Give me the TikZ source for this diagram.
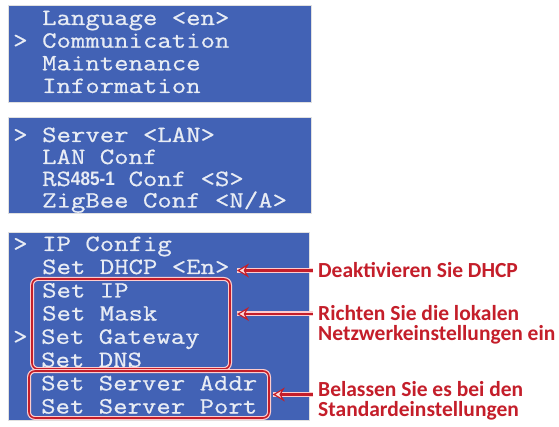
\documentclass[tikz,border=0pt]{standalone}
\usepackage{fontspec}
\newfontfamily\menufont{Latin Modern Mono}[FakeStretch=1.2,FakeBold=0.6]
\newfontfamily\notefont{Carlito}
\newfontfamily\digitfont{Liberation Sans}
\usetikzlibrary{arrows.meta,positioning}
\definecolor{menublue}{HTML}{4262B5}
\definecolor{menutext}{HTML}{E8ECF4}
\definecolor{notered}{HTML}{C41E2A}
\tikzset{
% Blue menu screens and their rows
panel/.style={fill=menublue,draw=black!12,line width=0.6pt},
menu line/.style={anchor=base west,inner sep=0,text=menutext,
  font=\menufont\fontsize{23.3}{23.3}\selectfont},
% Red call-outs: frames, arrows and notes
mark box/.style={draw=notered,line width=1.6pt,rounded corners=6pt,
  preaction={draw=red!20,line width=4pt}},
note arrow/.style={draw=notered,line width=2.4pt,
  -{Stealth[length=12pt,width=14pt,inset=4pt,line width=1.2pt,fill=red!15]},
  preaction={draw=red!20,line width=5pt,-}},
note/.style={anchor=base west,inner sep=0,text=notered,
  font=\notefont\bfseries\fontsize{21.5}{21.5}\selectfont}
}
\begin{document}
\begin{tikzpicture}[x=1pt,y=-1pt]
\useasboundingbox (0,0) rectangle (559,427);
% The three screens
\fill[white] (0,0) rectangle (559,427);
\draw[panel] (8,5) rectangle (311,102);
\draw[panel] (8,117) rectangle (311,213);
\draw[panel] (8,232) rectangle (309,420);
% Main menu
\node[menu line] (lang) at (42,25) {Language <en>};
\node[menu line] (comm) at (42,47.7) {Communication};
\node[menu line] (maint) at (42,70.3) {Maintenance};
\node[menu line] (info) at (42,93) {Information};
\node[menu line] (sel1) at (13,47.7) {>};
% Communication menu
\node[menu line] (server) at (42,142) {Server <LAN>};
\node[menu line] (lanconf) at (42,164) {LAN Conf};
\node[menu line] (rs) at (42,186) {RS\makebox[43.2pt][l]{\digitfont\bfseries\fontsize{19.5}{19.5}\selectfont\scalebox{0.88}[1]{485-1}} Conf <S>};
\node[menu line] (zigbee) at (42,207.5) {ZigBee Conf <N/A>};
\node[menu line] (sel2) at (13,142) {>};
% LAN settings menu
\node[menu line] (ipconf) at (42,251) {IP Config};
\node[menu line] (dhcp) at (42,274) {Set DHCP <En>};
\node[menu line] (ip) at (42,297.5) {Set IP};
\node[menu line] (mask) at (42,320.5) {Set Mask};
\node[menu line] (gateway) at (41,343.8) {Set Gateway};
\node[menu line] (dns) at (41,367) {Set DNS};
\node[menu line] (addr) at (41,390.3) {Set Server Addr};
\node[menu line] (port) at (41,413.5) {Set Server Port};
\node[menu line] (sel3) at (13,251) {>};
\node[menu line] (sel4) at (13,343.8) {>};
% Frames round the rows to set
\node[mark box,minimum width=198pt,minimum height=90pt] (lan box) at (131,324) {};
\node[mark box,minimum width=240pt,minimum height=47pt] (server box) at (149,394.5) {};
% Notes
\node[note] (dhcp note) at (318,278) {Deaktivieren Sie DHCP};
\node[note] (lan note) at (318,320) {Richten Sie die lokalen};
\node[note] (lan note2) at (318,341) {Netzwerkeinstellungen ein};
\node[note] (keep note) at (318,396) {Belassen Sie es bei den};
\node[note] (keep note2) at (318,416.5) {Standardeinstellungen};
% Arrows from the notes
\coordinate (dhcp tip) at (237,268);
\coordinate (lan tip) at (237,314);
\draw[note arrow] (dhcp note.west -| 313,0) -- (dhcp tip |- dhcp note.west);
\draw[note arrow] (313,314) -- (lan tip);
\draw[note arrow] (server box.east -| 313,0) -- ([xshift=3pt]server box.east);
\end{tikzpicture}
\end{document}
